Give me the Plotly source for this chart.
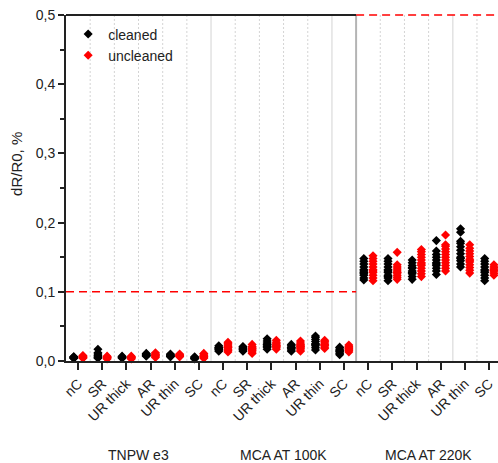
import plotly.graph_objects as go

categories = ["nC", "SR", "UR thick", "AR", "UR thin", "SC"]
groups = ["TNPW e3", "MCA AT 100K", "MCA AT 220K"]

# cleaned (black) values per category, per group (dR/R0, %)
tnpw_cleaned = [
    [0.004, 0.005, 0.006, 0.005, 0.004, 0.006],
    [0.004, 0.006, 0.008, 0.010, 0.012, 0.017, 0.005],
    [0.004, 0.005, 0.006, 0.007, 0.005],
    [0.007, 0.008, 0.009, 0.010, 0.011, 0.008],
    [0.006, 0.007, 0.008, 0.009, 0.010, 0.007],
    [0.003, 0.004, 0.005, 0.006, 0.004],
]
tnpw_uncleaned = [
    [0.004, 0.005, 0.006, 0.007, 0.008, 0.005],
    [0.003, 0.004, 0.005, 0.006, 0.007, 0.005],
    [0.003, 0.004, 0.005, 0.006, 0.007, 0.005],
    [0.005, 0.007, 0.008, 0.010, 0.012, 0.009],
    [0.006, 0.007, 0.008, 0.009, 0.010, 0.008],
    [0.004, 0.005, 0.007, 0.008, 0.010, 0.011, 0.006],
]
mca100_cleaned = [
    [0.014, 0.016, 0.018, 0.020, 0.022, 0.017, 0.019],
    [0.014, 0.016, 0.018, 0.020, 0.021, 0.017],
    [0.017, 0.020, 0.023, 0.026, 0.029, 0.032, 0.024, 0.021],
    [0.014, 0.016, 0.018, 0.020, 0.022, 0.024, 0.019],
    [0.016, 0.019, 0.022, 0.025, 0.028, 0.031, 0.034, 0.036, 0.024],
    [0.009, 0.011, 0.013, 0.015, 0.017, 0.019, 0.020, 0.014],
]
mca100_uncleaned = [
    [0.013, 0.015, 0.017, 0.019, 0.021, 0.023, 0.025, 0.027, 0.020],
    [0.011, 0.013, 0.015, 0.017, 0.019, 0.021, 0.024, 0.018],
    [0.017, 0.019, 0.021, 0.023, 0.025, 0.027, 0.030, 0.022],
    [0.014, 0.016, 0.018, 0.020, 0.022, 0.024, 0.026, 0.029, 0.021],
    [0.018, 0.020, 0.022, 0.024, 0.026, 0.028, 0.030, 0.023],
    [0.013, 0.015, 0.017, 0.019, 0.021, 0.023, 0.018],
]
mca220_cleaned = [
    [0.117, 0.120, 0.124, 0.128, 0.132, 0.136, 0.140, 0.144, 0.148, 0.130, 0.126],
    [0.116, 0.120, 0.124, 0.128, 0.132, 0.136, 0.140, 0.144, 0.148, 0.130, 0.122],
    [0.118, 0.122, 0.126, 0.130, 0.134, 0.138, 0.142, 0.146, 0.128, 0.135],
    [0.125, 0.130, 0.134, 0.138, 0.142, 0.146, 0.150, 0.154, 0.159, 0.174, 0.140],
    [0.136, 0.140, 0.145, 0.150, 0.155, 0.160, 0.165, 0.170, 0.173, 0.186, 0.191, 0.148],
    [0.116, 0.120, 0.124, 0.128, 0.132, 0.136, 0.140, 0.144, 0.148, 0.130],
]
mca220_uncleaned = [
    [0.116, 0.120, 0.124, 0.128, 0.132, 0.136, 0.140, 0.144, 0.148, 0.152, 0.130],
    [0.118, 0.121, 0.124, 0.127, 0.130, 0.133, 0.136, 0.139, 0.157, 0.128],
    [0.122, 0.126, 0.130, 0.134, 0.138, 0.142, 0.146, 0.150, 0.154, 0.158, 0.161, 0.140],
    [0.130, 0.134, 0.138, 0.142, 0.146, 0.150, 0.154, 0.158, 0.162, 0.166, 0.168, 0.182],
    [0.127, 0.131, 0.135, 0.139, 0.143, 0.147, 0.151, 0.155, 0.159, 0.163, 0.168, 0.145],
    [0.124, 0.127, 0.130, 0.133, 0.136, 0.139, 0.131],
]

cleaned_all = tnpw_cleaned + mca100_cleaned + mca220_cleaned
uncleaned_all = tnpw_uncleaned + mca100_uncleaned + mca220_uncleaned
tick_labels = categories * len(groups)

xc, yc, xu, yu = [], [], [], []
for i, vals in enumerate(cleaned_all):
    xc += [i - 0.18] * len(vals)
    yc += vals
for i, vals in enumerate(uncleaned_all):
    xu += [i + 0.2] * len(vals)
    yu += vals

FONT = "Liberation Sans, Arial, sans-serif"
TXT = "#222"
fig = go.Figure()
fig.add_trace(go.Scatter(x=xc, y=yc, mode="markers", name="cleaned", cliponaxis=False,
                         marker=dict(symbol="diamond", size=7, color="black")))
fig.add_trace(go.Scatter(x=xu, y=yu, mode="markers", name="uncleaned", cliponaxis=False,
                         marker=dict(symbol="diamond", size=7, color="#ff0000")))

n = len(tick_labels)
xmax = 17.37
shapes = []
for k in range(n - 1):
    xb = k + 0.5
    if abs(xb - 11.5) < 1e-9:
        ln = dict(color="#b4b4b4", width=2)
    elif abs(xb - 5.5) < 1e-9 or abs(xb - 10.5) < 1e-9 or abs(xb - 15.5) < 1e-9:
        ln = dict(color="#e2e2e2", width=1.5)
    else:
        ln = dict(color="#d4d4d4", width=1, dash="2px,2px")
    shapes.append(dict(type="line", xref="x", yref="y", x0=xb, x1=xb, y0=0, y1=0.5,
                       line=ln, layer="below"))
# limit lines
shapes.append(dict(type="line", xref="x", yref="y", x0=-0.5, x1=11.5, y0=0.1, y1=0.1,
                   line=dict(color="#ff0000", width=1.5, dash="8px,5px"), layer="below"))
shapes.append(dict(type="line", xref="x", yref="paper", x0=11.5, x1=xmax, y0=1, y1=1,
                   line=dict(color="#ff0000", width=1.5, dash="8px,5px"), layer="above"))
shapes.append(dict(type="line", xref="x", yref="paper", x0=-0.5, x1=11.5, y0=1, y1=1,
                   line=dict(color="#222", width=2), layer="above"))

annotations = []
for g, name in enumerate(groups):
    annotations.append(dict(text=name, x=g * 6 + 2.5, xref="x", y=-0.272, yref="paper",
                            showarrow=False, xanchor="center", yanchor="middle",
                            font=dict(family=FONT, size=14, color=TXT)))
annotations.append(dict(text="dR/R0, %", x=-0.113, xref="paper", y=0.57, yref="paper",
                        showarrow=False, textangle=-90, xanchor="center", yanchor="middle",
                        font=dict(family=FONT, size=15, color=TXT)))

fig.update_layout(
    width=498, height=463,
    margin=dict(l=66, r=0, t=15, b=102),
    paper_bgcolor="white", plot_bgcolor="white",
    separators=", ",
    font=dict(family=FONT, size=14, color=TXT),
    shapes=shapes, annotations=annotations,
    showlegend=True,
    legend=dict(x=0.005, y=0.99, xanchor="left", yanchor="top", bgcolor="rgba(0,0,0,0)",
                font=dict(family=FONT, size=14, color=TXT), tracegroupgap=0),
    xaxis=dict(range=[-0.5, xmax], tickmode="array", tickvals=list(range(n)),
               ticktext=tick_labels, tickangle=-45, ticks="outside", ticklen=7,
               tickwidth=1.5, tickcolor=TXT, showline=True, linecolor=TXT,
               linewidth=2, showgrid=False, zeroline=False, ticklabeloverflow="allow",
               tickfont=dict(family=FONT, size=14, color=TXT)),
    yaxis=dict(range=[0, 0.5], tickmode="array", tickvals=[0, 0.1, 0.2, 0.3, 0.4, 0.5],
               tickformat=".1f", ticks="outside", ticklen=6, tickwidth=1.5,
               tickcolor=TXT, showline=True, linecolor=TXT, linewidth=2,
               showgrid=False, zeroline=False, ticklabeloverflow="allow",
               minor=dict(tickvals=[0.05, 0.15, 0.25, 0.35, 0.45], ticks="outside",
                          ticklen=4, tickwidth=1.5, tickcolor=TXT),
               tickfont=dict(family=FONT, size=14, color=TXT)),
)

# remove the default page margin so the figure fills the window exactly
fig.write_html(
    "out.html",
    config={"displayModeBar": False},
    post_script="document.body.style.margin='0';document.body.style.overflow='hidden';",
)
